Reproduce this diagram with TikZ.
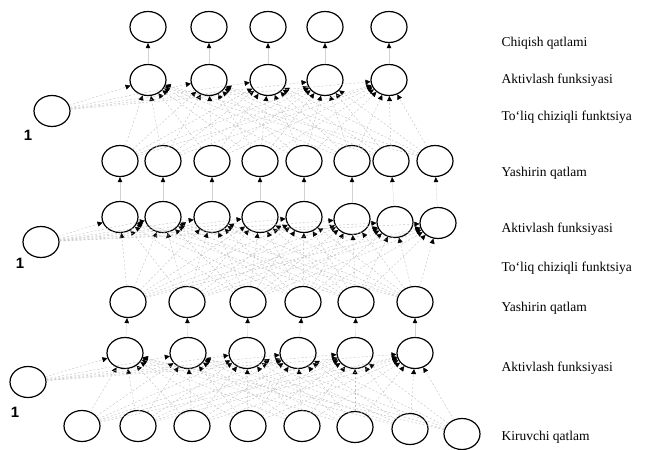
\documentclass[tikz,border=0pt]{standalone}
\usepackage{fontspec}
\setmainfont{Liberation Serif}
\newfontfamily\onefont{Liberation Sans}
\usetikzlibrary{shapes.geometric,arrows.meta}

\begin{document}
\begin{tikzpicture}[x=1pt, y=-1pt,
        neuron/.style={draw, ellipse, line width=1.2pt, minimum width=36pt,
                       minimum height=31pt, inner sep=0pt},
        wire/.style={dash pattern=on 2pt off 2pt, gray!50, line width=0.4pt,
                     -{Triangle[black, length=5pt, width=5pt]}},
        link/.style={gray!35, line width=0.3pt,
                     -{Triangle[black, length=5pt, width=4.5pt]}},
        lbl/.style={anchor=west, font=\fontsize{13.5}{15}\selectfont},
        one/.style={font=\onefont\bfseries\fontsize{15}{17}\selectfont}
    ]
    \useasboundingbox (0,0) rectangle (652,449);

    % layers
    \foreach \x [count=\i] in {148,209,268,325,389} {
        \node[neuron] (out\i)  at (\x,27) {};
        \node[neuron] (act3\i) at (\x,80) {};
    }
    \foreach \x [count=\i] in {120,163,212,260,304,352,391,435}
        \node[neuron] (hid2\i) at (\x,161) {};
    \foreach \x/\y [count=\i] in {120/217,163/217,212/217,260/217,304/217,352/219,395/222,438/223}
        \node[neuron] (act2\i) at (\x,\y) {};
    \foreach \x [count=\i] in {128,187,248,303,356,415}
        \node[neuron] (hid1\i) at (\x,302) {};
    \foreach \x [count=\i] in {125,188,247,298,355,415}
        \node[neuron] (act1\i) at (\x,353) {};
    \foreach \x/\y [count=\i] in {82/426,138/426,192/426,248/426,302/426,355/427,410/429,462/434}
        \node[neuron] (inp\i) at (\x,\y) {};

    % bias nodes
    \node[neuron] (b3) at (52,111) {};
    \node[neuron] (b2) at (41,242) {};
    \node[neuron] (b1) at (28,382) {};
    \node[one] (b3l) at (28,135) {1};
    \node[one] (b2l) at (20,263) {1};
    \node[one] (b1l) at (15,412) {1};

    % one-to-one
    \foreach \i in {1,...,5} \draw[link] (act3\i) -- (out\i);
    \foreach \i in {1,...,8} \draw[link] (act2\i) -- (hid2\i);
    \foreach \i in {1,...,6} \draw[link] (act1\i) -- (hid1\i);

    % fully connected
    \foreach \k in {1,...,5} {
        \draw[wire] (b3) -- (act3\k);
        \foreach \j in {1,...,8} \draw[wire] (hid2\j) -- (act3\k);
    }
    \foreach \k in {1,...,8} {
        \draw[wire] (b2) -- (act2\k);
        \foreach \j in {1,...,6} \draw[wire] (hid1\j) -- (act2\k);
    }
    \foreach \k in {1,...,6} {
        \draw[wire] (b1) -- (act1\k);
        \foreach \j in {1,...,8} \draw[wire] (inp\j) -- (act1\k);
    }

    % labels
    \node[lbl] (t1) at (498,43)  {Chiqish qatlami};
    \node[lbl] (t2) at (498,80)  {Aktivlash funksiyasi};
    \node[lbl] (t3) at (498,117) {To‘liq chiziqli funktsiya};
    \node[lbl] (t4) at (498,173) {Yashirin qatlam};
    \node[lbl] (t5) at (498,229) {Aktivlash funksiyasi};
    \node[lbl] (t6) at (498,268) {To‘liq chiziqli funktsiya};
    \node[lbl] (t7) at (498,308) {Yashirin qatlam};
    \node[lbl] (t8) at (498,368) {Aktivlash funksiyasi};
    \node[lbl] (t9) at (498,437) {Kiruvchi qatlam};
\end{tikzpicture}
\end{document}
